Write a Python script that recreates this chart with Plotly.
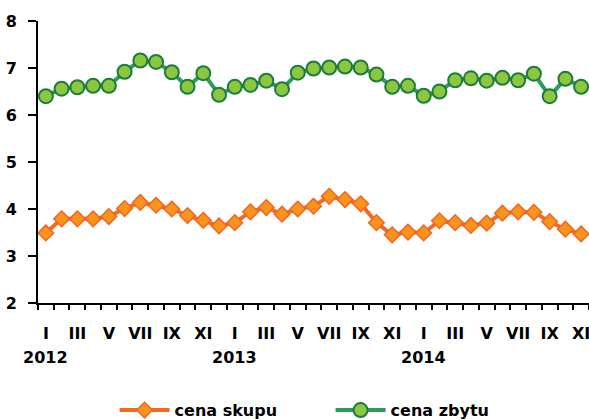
import plotly.graph_objects as go

month_labels = ["I", "II", "III", "IV", "V", "VI", "VII", "VIII", "IX", "X", "XI", "XII"]
years = ["2012", "2013", "2014"]

cena_skupu = [3.49, 3.79, 3.79, 3.79, 3.84, 4.01, 4.14, 4.08, 4.00, 3.86, 3.76, 3.64,
              3.71, 3.94, 4.03, 3.89, 4.00, 4.06, 4.27, 4.20, 4.11, 3.71, 3.45, 3.51,
              3.49, 3.75, 3.71, 3.65, 3.70, 3.91, 3.94, 3.93, 3.73, 3.57, 3.47]
cena_zbytu = [6.40, 6.56, 6.59, 6.62, 6.62, 6.92, 7.16, 7.13, 6.91, 6.60, 6.89, 6.43,
              6.60, 6.64, 6.73, 6.55, 6.90, 6.99, 7.01, 7.03, 7.01, 6.86, 6.60, 6.62,
              6.41, 6.50, 6.74, 6.78, 6.73, 6.79, 6.74, 6.88, 6.40, 6.77, 6.60]

n = len(cena_skupu)
x = list(range(n))
labels = [month_labels[i % 12] for i in range(n)]
tickvals = [i for i in x if i % 2 == 0]
ticktext = [labels[i] for i in tickvals]
boundaries = [i - 0.5 for i in range(n + 1)]

FONT = dict(family="DejaVu Sans", size=16, color="black", weight="bold")

fig = go.Figure()
fig.add_trace(go.Scatter(
    x=x, y=cena_skupu, name="cena skupu", mode="lines+markers",
    line=dict(color="#F26A21", width=4),
    marker=dict(symbol="diamond", size=12, color="#F7941D",
                line=dict(color="#F26522", width=1.5)),
    cliponaxis=False,
))
fig.add_trace(go.Scatter(
    x=x, y=cena_zbytu, name="cena zbytu", mode="lines+markers",
    line=dict(color="#2E9B5C", width=4),
    marker=dict(symbol="circle", size=14, color="#8DC63F",
                line=dict(color="#1B7D3C", width=2)),
    cliponaxis=False,
))

for k, yr in enumerate(years):
    fig.add_annotation(x=12 * k, y=-0.194, xref="x", yref="paper", text=yr,
                       showarrow=False, font=FONT, xanchor="center", yanchor="middle")

fig.update_layout(
    width=589, height=419,
    margin=dict(l=38, r=0, t=21, b=116, autoexpand=False),
    paper_bgcolor="white", plot_bgcolor="white",
    font=FONT,
    showlegend=True,
    legend=dict(orientation="h", x=0.139, xanchor="left", y=-0.38, yanchor="middle",
                font=FONT, entrywidth=151, entrywidthmode="pixels",
                itemwidth=50, traceorder="normal"),
)
fig.update_xaxes(
    range=[-0.5, n - 0.5], tickmode="array", tickvals=tickvals, ticktext=ticktext,
    ticks="", showgrid=False, zeroline=False, automargin=False,
    showline=True, linecolor="black", linewidth=2,
    ticklabelstandoff=15, tickfont=FONT, ticklabeloverflow="allow",
    minor=dict(tickmode="array", tickvals=boundaries, ticks="outside", ticklen=5,
               tickcolor="black", tickwidth=1.5, showgrid=False),
)
fig.update_yaxes(
    range=[2, 8], dtick=1, tick0=2, ticks="outside", ticklen=8, tickwidth=1.5,
    tickcolor="black", showgrid=False, zeroline=False, automargin=False,
    showline=True, linecolor="black", linewidth=2,
    ticklabelstandoff=8, tickfont=FONT,
)

fig.write_html("out.html", config={"displayModeBar": False},
               post_script="document.body.style.margin='0';document.body.style.overflow='hidden';")
